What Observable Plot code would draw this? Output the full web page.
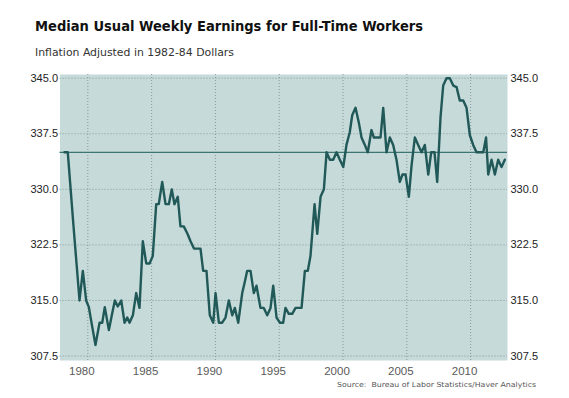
<!DOCTYPE html>
<html>
<head>
<meta charset="utf-8">
<script src="https://cdn.jsdelivr.net/npm/d3@7"></script>
<script src="https://cdn.jsdelivr.net/npm/@observablehq/plot@0.6"></script>
<style>
  body { margin: 0; background: #fff; }
  #chart { width: 569px; height: 398px; }
</style>
</head>
<body>
<div id="chart"></div>
<script>
// Chart texts
const titleText = "Median Usual Weekly Earnings for Full-Time Workers";
const subtitleText = "Inflation Adjusted in 1982-84 Dollars";
const sourceText = "Source:  Bureau of Labor Statistics/Haver Analytics";

// Ticks
const xTicks = [1980, 1985, 1990, 1995, 2000, 2005, 2010];
const yTicks = [307.5, 315.0, 322.5, 330.0, 337.5, 345.0];
const referenceValue = 335;

// Series
const years = [
  1978.17, 1978.43, 1978.88, 1979.35, 1979.61, 1979.87, 1980.08, 1980.34, 1980.60, 1980.92,
  1981.13, 1981.33, 1981.65, 1981.88, 1982.12, 1982.35, 1982.62, 1982.88, 1983.09, 1983.27,
  1983.53, 1983.79, 1984.05, 1984.31, 1984.58, 1984.84, 1985.09, 1985.36, 1985.56, 1985.83,
  1986.09, 1986.35, 1986.58, 1986.79, 1987.05, 1987.26, 1987.52, 1987.81, 1988.05, 1988.32,
  1988.60, 1988.83, 1989.04, 1989.30, 1989.56, 1989.83, 1990.01, 1990.27, 1990.53, 1990.79,
  1991.05, 1991.32, 1991.52, 1991.79, 1992.10, 1992.30, 1992.49, 1992.75, 1993.01, 1993.22,
  1993.53, 1993.79, 1994.06, 1994.32, 1994.53, 1994.79, 1995.05, 1995.31, 1995.49, 1995.75,
  1996.02, 1996.28, 1996.54, 1996.75, 1997.01, 1997.24, 1997.45, 1997.77, 1997.98, 1998.24,
  1998.50, 1998.71, 1998.97, 1999.23, 1999.49, 1999.75, 2000.02, 2000.27, 2000.53, 2000.72,
  2000.98, 2001.24, 2001.45, 2001.71, 2001.94, 2002.23, 2002.41, 2002.68, 2002.94, 2003.15,
  2003.41, 2003.67, 2003.93, 2004.19, 2004.45, 2004.66, 2004.90, 2005.16, 2005.37, 2005.63,
  2005.89, 2006.15, 2006.41, 2006.68, 2006.91, 2007.17, 2007.38, 2007.64, 2007.85, 2008.11,
  2008.37, 2008.64, 2008.90, 2009.15, 2009.42, 2009.68, 2009.94, 2010.20, 2010.46, 2010.72,
  2010.99, 2011.21, 2011.38, 2011.64, 2011.90, 2012.16, 2012.42, 2012.68
];
const values = [
  335.0, 335.0, 325.0, 315.0, 319.0, 315.0, 314.1, 311.5, 309.0, 312.0,
  312.0, 314.1, 311.0, 313.0, 315.0, 314.2, 315.0, 312.0, 312.7, 312.0,
  313.0, 316.0, 314.0, 323.0, 320.0, 320.0, 321.0, 328.0, 328.0, 331.0,
  328.0, 328.0, 330.0, 328.0, 329.0, 325.0, 325.0, 324.0, 323.0, 322.0,
  322.0, 322.0, 319.0, 319.0, 313.0, 312.0, 316.0, 312.0, 312.0, 312.7,
  315.0, 313.0, 314.0, 312.0, 316.0, 317.5, 319.0, 319.0, 316.0, 317.0,
  314.0, 314.0, 313.0, 314.0, 317.0, 312.7, 312.0, 312.0, 314.0, 313.2,
  313.2, 314.0, 314.0, 314.0, 319.0, 319.0, 321.0, 328.0, 324.0, 329.0,
  330.0, 335.0, 334.0, 334.0, 335.0, 334.0, 333.0, 336.0, 337.7, 340.0,
  341.0, 339.0, 337.0, 336.0, 335.0, 338.0, 337.0, 337.0, 337.0, 341.0,
  335.0, 337.0, 336.0, 334.0, 331.0, 332.0, 332.0, 329.0, 333.2, 337.0,
  336.0, 335.0, 336.0, 332.0, 335.0, 335.0, 331.0, 339.7, 344.0, 345.0,
  345.0, 344.0, 343.8, 342.0, 342.0, 341.0, 337.3, 336.0, 335.0, 335.0,
  335.0, 337.0, 332.0, 334.0, 332.0, 334.0, 333.0, 334.0
];

const data = years.map((year, i) => ({year, value: values[i]}));
const fmtY = d => d.toFixed(1);

const chart = Plot.plot({
  width: 569,
  height: 398,
  marginLeft: 59.5,
  marginRight: 62,
  marginTop: 74,
  marginBottom: 38,
  style: {
    background: "#ffffff",
    fontFamily: "'Liberation Sans', Arial, sans-serif",
    fontSize: "11px",
    color: "#222"
  },
  x: {domain: [1977.82, 2012.89], label: null},
  y: {domain: [306.9, 345.5], label: null},
  marks: [
    Plot.frame({fill: "#c5dad9", stroke: "none"}),
    Plot.gridX(xTicks, {stroke: "#7f9392", strokeOpacity: 0.9, strokeDasharray: "1,2"}),
    Plot.gridY(yTicks, {stroke: "#7f9392", strokeOpacity: 0.9, strokeDasharray: "1,2"}),
    Plot.ruleY([referenceValue], {stroke: "#3d7573", strokeWidth: 1.2}),
    Plot.line(data, {x: "year", y: "value", stroke: "#215858", strokeWidth: 2.4, strokeLinejoin: "round"}),
    Plot.axisX(xTicks, {tickSize: 0, tickPadding: 6, dx: -6, tickFormat: d => String(d), fill: "#5a5a5a", fontSize: 11.5, label: null}),
    Plot.axisY(yTicks, {anchor: "left", tickSize: 0, tickPadding: 2, tickFormat: fmtY, fill: "#222", label: null}),
    Plot.axisY(yTicks, {anchor: "right", tickSize: 0, tickPadding: 3, tickFormat: fmtY, fill: "#222", label: null})
  ]
});

const svg = d3.select(chart);
svg.append("text")
  .attr("x", 35).attr("y", 31)
  .attr("text-anchor", "start")
  .attr("font-family", "'DejaVu Sans', Verdana, sans-serif")
  .attr("font-weight", "bold")
  .attr("font-size", 14.5)
  .attr("fill", "#111")
  .attr("textLength", 388)
  .attr("lengthAdjust", "spacingAndGlyphs")
  .text(titleText);
svg.append("text")
  .attr("x", 35).attr("y", 56)
  .attr("text-anchor", "start")
  .attr("font-family", "'DejaVu Sans', Verdana, sans-serif")
  .attr("font-size", 10.5)
  .attr("fill", "#333")
  .attr("textLength", 199)
  .attr("lengthAdjust", "spacingAndGlyphs")
  .text(subtitleText);
svg.append("text")
  .attr("x", 337).attr("y", 387)
  .attr("text-anchor", "start")
  .attr("font-family", "'DejaVu Sans', Verdana, sans-serif")
  .attr("font-size", 7)
  .attr("fill", "#555")
  .attr("textLength", 199)
  .attr("lengthAdjust", "spacingAndGlyphs")
  .text(sourceText);

document.getElementById("chart").appendChild(chart);
</script>
</body>
</html>
